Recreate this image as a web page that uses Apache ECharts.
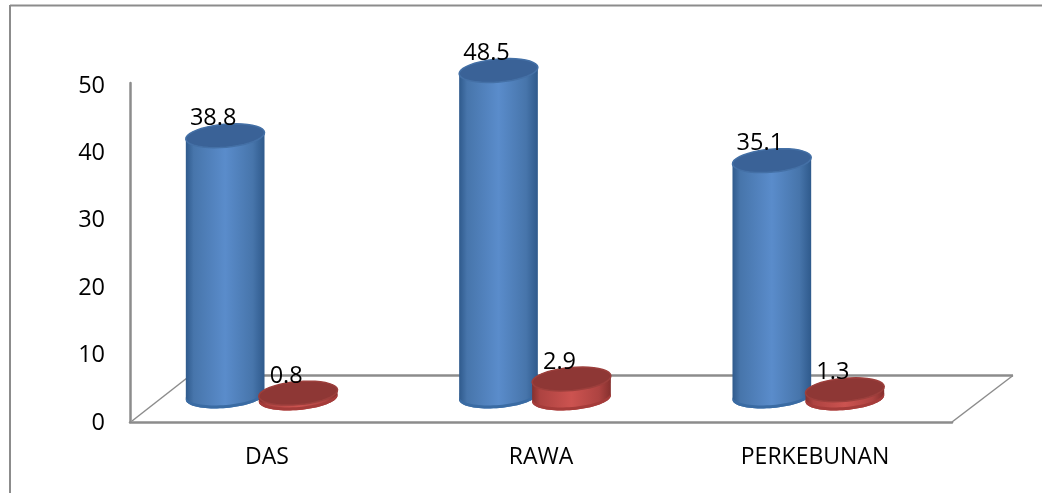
<!DOCTYPE html>
<html>
<head>
<meta charset="utf-8">
<script src="https://cdn.jsdelivr.net/npm/echarts@6/dist/echarts.min.js"></script>
<style>
html, body { margin: 0; padding: 0; background: #fff; }
#mychart { width: 1042px; height: 493px; }
</style>
</head>
<body>
<div id="mychart"></div>
<script>
let categories = ["DAS", "RAWA", "PERKEBUNAN"]
let blueValues = [38.8, 48.5, 35.1]
let redValues = [0.8, 2.9, 1.3]
let yTicks = { min: 0, max: 50, interval: 10 }

let lineColor = "#8c8c8c"
let fontName = '"Open Sans", sans-serif'
let tilt = -5 * Math.PI / 180

// points of a tilted ellipse between two angles
function ellipsePts(cx, cy, rx, ry, from, to) {
    let pts = []
    for (let i = 0; i <= 40; i++) {
        let t = from + (to - from) * i / 40
        let ex = rx * Math.cos(t)
        let ey = ry * Math.sin(t)
        pts.push([cx + ex * Math.cos(tilt) - ey * Math.sin(tilt), cy + ex * Math.sin(tilt) + ey * Math.cos(tilt)])
    }
    return pts
}

function sideGradient(edge, mid, inner) {
    return new echarts.graphic.LinearGradient(0, 0, 1, 0, [
        { offset: 0, color: edge },
        { offset: 0.1, color: inner },
        { offset: 0.5, color: mid },
        { offset: 0.85, color: inner },
        { offset: 1, color: edge }
    ])
}

function cylinder(offset, look) {
    return function (params, api) {
        let cat = api.value(0)
        let val = api.value(1)
        let cx = api.coord([cat, 0])[0] + offset
        let base = api.coord([cat, 0])[1] + look.drop
        let top = api.coord([cat, val])[1] + look.drop
        let rx = 39.5
        let ry = 11.5
        let body = ellipsePts(cx, base, rx, ry, 0, Math.PI).concat(ellipsePts(cx, top, rx, ry, Math.PI, 2 * Math.PI))
        let rim = ellipsePts(cx, base, rx, ry, 0, Math.PI).concat(ellipsePts(cx, base - 3, rx, ry, Math.PI, 0))
        let children = [
            { type: "polygon", shape: { points: body }, style: { fill: sideGradient(look.edge, look.mid, look.inner) } },
            { type: "polygon", shape: { points: rim }, style: { fill: look.rim } },
            { type: "polygon", shape: { points: ellipsePts(cx, top, rx, ry, 0, 2 * Math.PI) }, style: { fill: look.cap, stroke: look.capLine, lineWidth: 1.5 } },
            {
                type: "text",
                z2: 10,
                style: {
                    text: val.toFixed(1),
                    x: cx - 12,
                    y: top - 17,
                    fill: "#000",
                    font: '23.5px ' + fontName,
                    textAlign: "center",
                    textVerticalAlign: "middle"
                }
            }
        ]
        return { type: "group", children: children }
    }
}

let blueLook = { drop: 0, edge: "#2f5a8c", inner: "#4775ab", mid: "#5a8ccb", rim: "#3a6ba3", cap: "#3a6297", capLine: "#4470a6" }
let redLook = { drop: 2, edge: "#85302e", inner: "#ad4341", mid: "#cc5350", rim: "#a53c3a", cap: "#8e3735", capLine: "#9c3f3c" }

let myChart = echarts.init(document.getElementById("mychart"))

myChart.setOption({
    animation: false,
    backgroundColor: "#fff",
    // grid 0 draws the axis lines and categories, grid 1 is the floor plane the
    // cylinders stand on, grid 2 carries the tick labels (they sit a bit under the line ends)
    grid: [
        { left: 130, top: 83, width: 822, height: 339 },
        { left: 125, top: 60.5, width: 820, height: 336 },
        { left: 130, top: 86, width: 822, height: 337 }
    ],
    xAxis: [
        {
            type: "category",
            gridIndex: 0,
            data: categories,
            axisLine: { lineStyle: { color: lineColor, width: 2.5 } },
            axisTick: { show: false },
            axisLabel: { color: "#000", fontFamily: fontName, fontSize: 23, margin: 24 }
        },
        { type: "category", gridIndex: 1, data: categories, show: false },
        { type: "category", gridIndex: 2, data: categories, show: false }
    ],
    yAxis: [
        {
            type: "value",
            gridIndex: 0,
            min: yTicks.min,
            max: yTicks.max,
            interval: yTicks.interval,
            axisLine: { show: true, lineStyle: { color: lineColor, width: 2.5 } },
            axisTick: { show: false },
            splitLine: { show: false },
            axisLabel: { show: false }
        },
        { type: "value", gridIndex: 1, min: yTicks.min, max: yTicks.max, interval: yTicks.interval, show: false },
        {
            type: "value",
            gridIndex: 2,
            min: yTicks.min,
            max: yTicks.max,
            interval: yTicks.interval,
            axisLine: { show: false },
            axisTick: { show: false },
            splitLine: { show: false },
            axisLabel: { color: "#000", fontFamily: fontName, fontSize: 23.5, margin: 25 }
        }
    ],
    graphic: [
        { type: "line", z: -1, shape: { x1: 10, y1: 5.5, x2: 1042, y2: 5.5 }, style: { stroke: lineColor, lineWidth: 2 } },
        { type: "line", z: -1, shape: { x1: 10, y1: 5, x2: 10, y2: 493 }, style: { stroke: lineColor, lineWidth: 2 } },
        { type: "line", z: -1, shape: { x1: 186, y1: 375.5, x2: 1013, y2: 375.5 }, style: { stroke: lineColor, lineWidth: 2.5 } },
        { type: "line", z: -1, shape: { x1: 132, y1: 421, x2: 187, y2: 378 }, style: { stroke: lineColor, lineWidth: 1.5 } },
        { type: "line", z: -1, shape: { x1: 952, y1: 422, x2: 1013, y2: 375.5 }, style: { stroke: lineColor, lineWidth: 1.5 } }
    ],
    series: [
        {
            type: "custom",
            xAxisIndex: 1,
            yAxisIndex: 1,
            clip: false,
            encode: { x: 0, y: 1 },
            data: blueValues.map((v, i) => [i, v]),
            renderItem: cylinder(-36.5, blueLook)
        },
        {
            type: "custom",
            xAxisIndex: 1,
            yAxisIndex: 1,
            clip: false,
            encode: { x: 0, y: 1 },
            data: redValues.map((v, i) => [i, v]),
            renderItem: cylinder(36.5, redLook)
        }
    ]
})
</script>
</body>
</html>
